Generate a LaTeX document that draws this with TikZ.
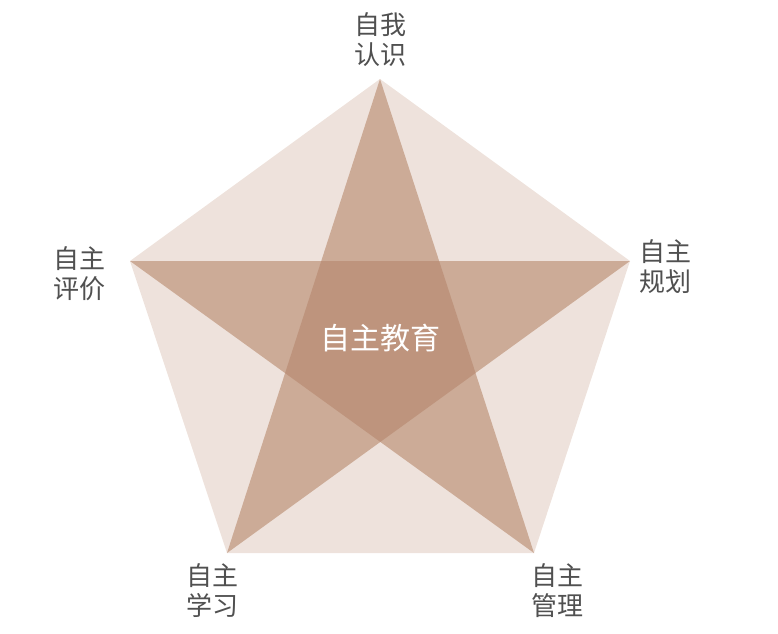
\documentclass[tikz,border=0pt]{standalone}
\usepackage{fontspec}
\setmainfont{Noto Sans CJK SC}
\definecolor{pentlight}{HTML}{EEE2DC}
\definecolor{starmid}{HTML}{CCAB97}
\definecolor{stardark}{HTML}{BE947D}
\definecolor{labelgray}{HTML}{505050}
\begin{document}
\begin{tikzpicture}[x=1pt,y=-1pt,
  lbl/.style={text=labelgray,align=center,font=\fontsize{26}{30}\selectfont,inner sep=0pt},
  ctr/.style={text=white,font=\fontsize{30}{34}\selectfont,inner sep=0pt}]
\useasboundingbox (0,0) rectangle (778,633);
\coordinate (T) at (380,79);
\coordinate (L) at (130,261);
\coordinate (R) at (630,261);
\coordinate (BL) at (227,553);
\coordinate (BR) at (534,553);
\coordinate (a) at (intersection of T--BL and L--R);
\coordinate (b) at (intersection of T--BR and L--R);
\coordinate (c) at (intersection of T--BR and R--BL);
\coordinate (d) at (intersection of BL--R and L--BR);
\coordinate (e) at (intersection of T--BL and L--BR);
\fill[pentlight] (T) -- (R) -- (BR) -- (BL) -- (L) -- cycle;
\fill[starmid] (T) -- (BL) -- (R) -- (L) -- (BR) -- cycle;
\fill[stardark] (a) -- (b) -- (c) -- (d) -- (e) -- cycle;
\node[ctr] (center) at (380,338) {自主教育};
\node[lbl] (top) at (380,40) {自我\\认识};
\node[lbl] (right) at (665,267) {自主\\规划};
\node[lbl] (left) at (79,274) {自主\\评价};
\node[lbl] (botleft) at (212,591) {自主\\学习};
\node[lbl] (botright) at (557,591) {自主\\管理};
\end{tikzpicture}
\end{document}
